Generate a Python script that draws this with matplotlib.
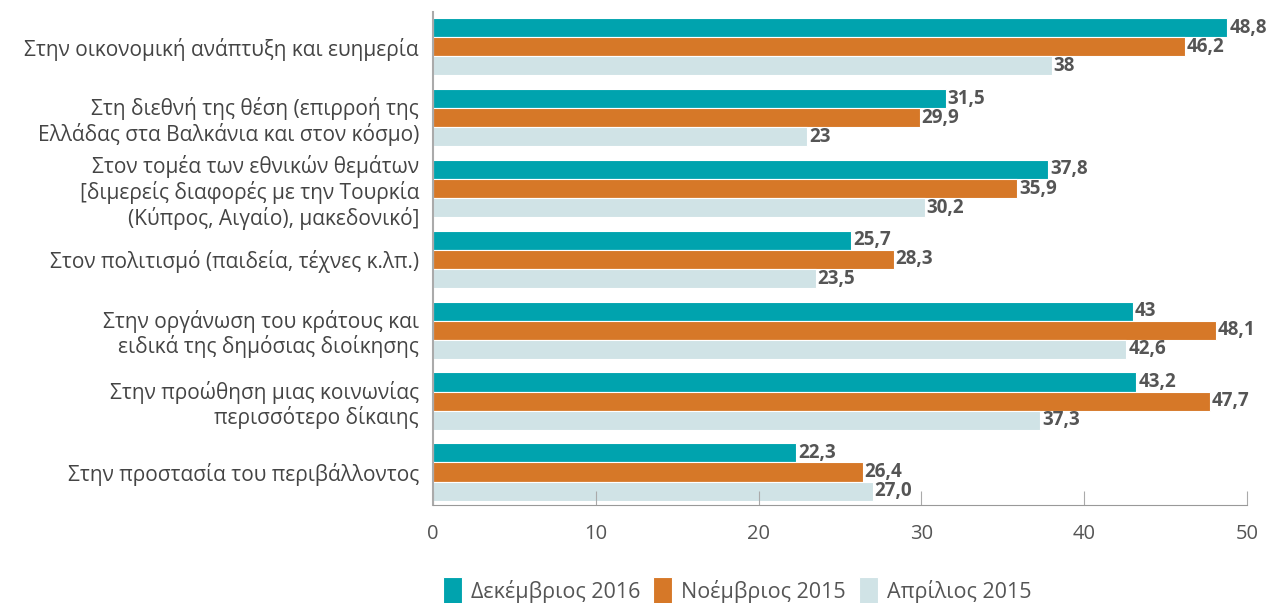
import numpy as np
import matplotlib.pyplot as plt

categories = [
    "Στην οικονομική ανάπτυξη και ευημερία",
    "Στη διεθνή της θέση (επιρροή της\nΕλλάδας στα Βαλκάνια και στον κόσμο)",
    "Στον τομέα των εθνικών θεμάτων\n[διμερείς διαφορές με την Τουρκία\n(Κύπρος, Αιγαίο), μακεδονικό]",
    "Στον πολιτισμό (παιδεία, τέχνες κ.λπ.)",
    "Στην οργάνωση του κράτους και\nειδικά της δημόσιας διοίκησης",
    "Στην προώθηση μιας κοινωνίας\nπερισσότερο δίκαιης",
    "Στην προστασία του περιβάλλοντος",
]
series_names = ["Δεκέμβριος 2016", "Νοέμβριος 2015", "Απρίλιος 2015"]
dec2016 = [48.8, 31.5, 37.8, 25.7, 43.0, 43.2, 22.3]
nov2015 = [46.2, 29.9, 35.9, 28.3, 48.1, 47.7, 26.4]
apr2015 = [38.0, 23.0, 30.2, 23.5, 42.6, 37.3, 27.0]
dec2016_labels = ["48,8", "31,5", "37,8", "25,7", "43", "43,2", "22,3"]
nov2015_labels = ["46,2", "29,9", "35,9", "28,3", "48,1", "47,7", "26,4"]
apr2015_labels = ["38", "23", "30,2", "23,5", "42,6", "37,3", "27,0"]
colors = ["#00A3AE", "#D67828", "#D0E3E6"]

plt.rcParams['font.family'] = ['Open Sans', 'DejaVu Sans']

fig = plt.figure(figsize=(12.75, 6.03), dpi=100)
ax = fig.add_axes([0.3396, 0.1625, 0.6384, 0.818])

y = np.arange(len(categories))
h = 0.27
offsets = [-h, 0, h]
all_vals = [dec2016, nov2015, apr2015]
all_labels = [dec2016_labels, nov2015_labels, apr2015_labels]
for vals, labs, off, col, name in zip(all_vals, all_labels, offsets, colors, series_names):
    bars = ax.barh(y + off, vals, height=h, color=col, edgecolor="white",
                   linewidth=0.8, label=name)
    for b, lab in zip(bars, labs):
        ax.text(b.get_width() + 0.12, b.get_y() + b.get_height() / 2, lab,
                va="center", ha="left", fontsize=13.5, fontweight="bold",
                color="#555555")

ax.set_ylim(6.466, -0.494)
ax.set_xlim(0, 50)
ax.set_yticks(y)
ax.set_yticklabels(categories, fontsize=15, color="#444444", linespacing=1.15)
ax.tick_params(axis="y", length=0, pad=10)
ax.set_xticks([0, 10, 20, 30, 40, 50])
ax.tick_params(axis="x", direction="in", length=10, width=0.8, color="#aaaaaa",
               labelsize=14.5, labelcolor="#555555", pad=14)
for s in ["top", "right"]:
    ax.spines[s].set_visible(False)
ax.spines["left"].set_color("#aaaaaa")
ax.spines["bottom"].set_color("#999999")
ax.spines["left"].set_linewidth(1.5)

fig.legend(loc="lower center", bbox_to_anchor=(0.578, -0.035), ncol=3, frameon=False,
           fontsize=15.5, handlelength=0.9, handleheight=1.6, handletextpad=0.4,
           columnspacing=0.6, labelcolor="#555555")

fig.savefig("out.png", dpi=100)
